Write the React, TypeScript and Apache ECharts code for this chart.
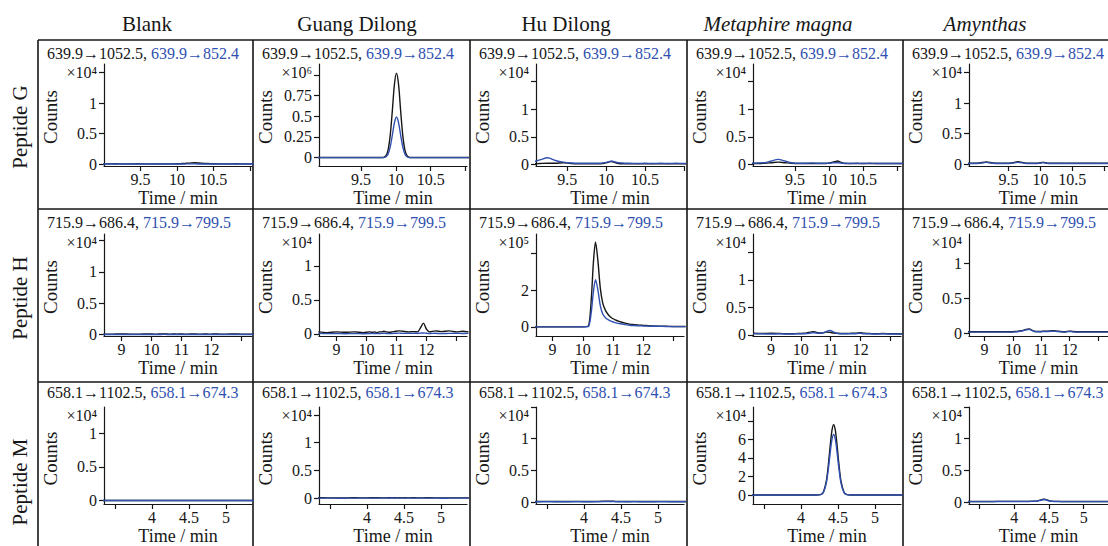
import React, { useEffect, useRef } from 'react';
import * as echarts from 'echarts';

// ---------- categories / texts ----------
const columnNames = ['Blank', 'Guang Dilong', 'Hu Dilong', 'Metaphire magna', 'Amynthas'];
const columnItalic = [false, false, false, true, true];
const peptideNames = ['Peptide G', 'Peptide H', 'Peptide M'];
const transitionsBlack = ['639.9→1052.5', '715.9→686.4', '658.1→1102.5'];
const transitionsBlue = ['639.9→852.4', '715.9→799.5', '658.1→674.3'];

// ---------- time axes (min) ----------
const timeG = [8.85, 8.95, 9.05, 9.15, 9.25, 9.35, 9.45, 9.55, 9.65, 9.75, 9.82, 9.86, 9.89, 9.92, 9.95, 9.98, 10.01, 10.04, 10.07, 10.1, 10.13, 10.16, 10.2, 10.25, 10.3, 10.4, 10.5, 10.6, 10.7, 10.8, 10.9, 11.0, 11.1];
const timeH = [8.4, 8.7, 9.0, 9.3, 9.6, 9.9, 10.1, 10.2, 10.28, 10.35, 10.42, 10.5, 10.58, 10.66, 10.75, 10.85, 10.97, 11.1, 11.2, 11.4, 11.55, 11.7, 11.8, 11.9, 12.0, 12.1, 12.3, 12.5, 12.75, 13.0, 13.2, 13.4];
const timeM = [3.3, 3.4, 3.5, 3.6, 3.7, 3.8, 3.9, 4.0, 4.1, 4.2, 4.26, 4.3, 4.34, 4.37, 4.4, 4.42, 4.44, 4.46, 4.48, 4.51, 4.54, 4.58, 4.62, 4.67, 4.75, 4.85, 4.95, 5.05, 5.15, 5.25, 5.4];

// ---------- Peptide G counts (black = first transition, blue = second) ----------
const gBlankK = [0.005, 0.005, 0.005, 0.006, 0.005, 0.005, 0.006, 0.005, 0.005, 0.005, 0.005, 0.005, 0.005, 0.005, 0.005, 0.006, 0.006, 0.008, 0.01, 0.012, 0.014, 0.016, 0.02, 0.022, 0.018, 0.01, 0.007, 0.005, 0.005, 0.006, 0.005, 0.005, 0.005];
const gBlankB = [0.002, 0.002, 0.002, 0.002, 0.002, 0.002, 0.002, 0.002, 0.002, 0.002, 0.002, 0.002, 0.002, 0.002, 0.002, 0.002, 0.002, 0.003, 0.003, 0.003, 0.004, 0.004, 0.004, 0.004, 0.003, 0.003, 0.002, 0.002, 0.002, 0.002, 0.002, 0.002, 0.002];
const gGuangK = [0.002, 0.002, 0.002, 0.002, 0.002, 0.002, 0.002, 0.002, 0.002, 0.002, 0.003, 0.025, 0.095, 0.27, 0.56, 0.88, 1.02, 0.88, 0.56, 0.27, 0.095, 0.025, 0.003, 0.002, 0.002, 0.002, 0.002, 0.002, 0.002, 0.002, 0.002, 0.002, 0.002];
const gGuangB = [0.001, 0.001, 0.001, 0.001, 0.001, 0.001, 0.001, 0.001, 0.001, 0.001, 0.0015, 0.012, 0.046, 0.13, 0.27, 0.42, 0.49, 0.42, 0.27, 0.13, 0.046, 0.012, 0.0015, 0.001, 0.001, 0.001, 0.001, 0.001, 0.001, 0.001, 0.001, 0.001, 0.001];
const gHuK = [0.01, 0.01, 0.01, 0.015, 0.02, 0.02, 0.03, 0.015, 0.01, 0.01, 0.01, 0.01, 0.01, 0.01, 0.015, 0.02, 0.03, 0.045, 0.05, 0.04, 0.025, 0.015, 0.01, 0.01, 0.01, 0.01, 0.01, 0.01, 0.01, 0.01, 0.01, 0.01, 0.01];
const gHuB = [0.03, 0.03, 0.04, 0.08, 0.12, 0.07, 0.04, 0.025, 0.02, 0.02, 0.02, 0.02, 0.02, 0.02, 0.025, 0.03, 0.04, 0.05, 0.06, 0.05, 0.04, 0.03, 0.025, 0.02, 0.02, 0.015, 0.02, 0.015, 0.02, 0.015, 0.02, 0.015, 0.015];
const gMetaK = [0.015, 0.015, 0.02, 0.03, 0.04, 0.03, 0.02, 0.015, 0.015, 0.015, 0.015, 0.015, 0.015, 0.015, 0.015, 0.02, 0.025, 0.035, 0.045, 0.055, 0.06, 0.045, 0.025, 0.015, 0.015, 0.015, 0.015, 0.015, 0.015, 0.015, 0.015, 0.015, 0.015];
const gMetaB = [0.02, 0.025, 0.03, 0.06, 0.09, 0.06, 0.03, 0.02, 0.02, 0.025, 0.02, 0.02, 0.02, 0.02, 0.02, 0.02, 0.02, 0.025, 0.03, 0.03, 0.03, 0.025, 0.02, 0.02, 0.015, 0.02, 0.015, 0.02, 0.015, 0.015, 0.015, 0.015, 0.015];
const gAmyK = [0.015, 0.015, 0.02, 0.035, 0.02, 0.015, 0.015, 0.02, 0.04, 0.02, 0.015, 0.015, 0.015, 0.015, 0.015, 0.02, 0.025, 0.03, 0.025, 0.02, 0.015, 0.015, 0.015, 0.015, 0.015, 0.015, 0.015, 0.015, 0.015, 0.015, 0.015, 0.015, 0.015];
const gAmyB = [0.01, 0.01, 0.015, 0.03, 0.015, 0.01, 0.01, 0.015, 0.03, 0.015, 0.01, 0.01, 0.01, 0.01, 0.01, 0.015, 0.02, 0.025, 0.02, 0.015, 0.01, 0.01, 0.01, 0.01, 0.01, 0.01, 0.01, 0.01, 0.01, 0.01, 0.01, 0.01, 0.01];

// ---------- Peptide H counts ----------
const hBlankK = [0.01, 0.01, 0.012, 0.01, 0.01, 0.012, 0.01, 0.01, 0.012, 0.012, 0.014, 0.012, 0.01, 0.01, 0.012, 0.01, 0.012, 0.01, 0.01, 0.012, 0.01, 0.01, 0.012, 0.01, 0.01, 0.012, 0.01, 0.01, 0.012, 0.01, 0.01, 0.01];
const hBlankB = [0.005, 0.005, 0.005, 0.005, 0.005, 0.005, 0.005, 0.005, 0.005, 0.005, 0.006, 0.005, 0.005, 0.005, 0.005, 0.005, 0.005, 0.005, 0.005, 0.005, 0.005, 0.005, 0.005, 0.005, 0.005, 0.005, 0.005, 0.005, 0.005, 0.005, 0.005, 0.005];
const hGuangK = [0.03, 0.02, 0.03, 0.025, 0.03, 0.02, 0.03, 0.025, 0.03, 0.02, 0.03, 0.03, 0.04, 0.03, 0.025, 0.03, 0.04, 0.045, 0.04, 0.03, 0.035, 0.03, 0.09, 0.16, 0.07, 0.03, 0.045, 0.035, 0.045, 0.03, 0.04, 0.03];
const hGuangB = [0.008, 0.005, 0.006, 0.004, 0.005, 0.004, 0.006, 0.008, 0.005, 0.006, 0.005, 0.008, 0.01, 0.006, 0.005, 0.006, 0.01, 0.012, 0.008, 0.01, 0.008, 0.01, 0.012, 0.015, 0.01, 0.006, 0.01, 0.005, 0.008, 0.01, 0.006, 0.008];
const hHuK = [0, 0, 0, 0, 0, 0, 0.01, 0.1, 1.5, 3.5, 4.64, 3.6, 2.1, 1.3, 0.9, 0.65, 0.47, 0.36, 0.3, 0.2, 0.15, 0.12, 0.1, 0.09, 0.08, 0.07, 0.05, 0.04, 0.03, 0.02, 0.02, 0.02];
const hHuB = [0, 0, 0, 0, 0, 0, 0.005, 0.05, 0.8, 1.9, 2.58, 2.0, 1.15, 0.7, 0.5, 0.38, 0.28, 0.22, 0.18, 0.12, 0.09, 0.07, 0.06, 0.055, 0.05, 0.045, 0.035, 0.03, 0.02, 0.01, 0.01, 0.01];
const hMetaK = [0.03, 0.025, 0.03, 0.025, 0.02, 0.025, 0.03, 0.035, 0.045, 0.055, 0.06, 0.05, 0.04, 0.035, 0.04, 0.05, 0.045, 0.035, 0.03, 0.025, 0.025, 0.03, 0.03, 0.035, 0.04, 0.03, 0.025, 0.02, 0.025, 0.02, 0.02, 0.02];
const hMetaB = [0.02, 0.02, 0.015, 0.02, 0.015, 0.02, 0.02, 0.025, 0.03, 0.035, 0.04, 0.035, 0.03, 0.03, 0.04, 0.06, 0.08, 0.05, 0.03, 0.02, 0.02, 0.02, 0.02, 0.025, 0.03, 0.02, 0.02, 0.015, 0.02, 0.015, 0.015, 0.015];
const hAmyK = [0.02, 0.02, 0.02, 0.02, 0.02, 0.02, 0.025, 0.03, 0.035, 0.04, 0.05, 0.058, 0.06, 0.045, 0.03, 0.025, 0.025, 0.03, 0.03, 0.035, 0.03, 0.025, 0.02, 0.025, 0.03, 0.025, 0.02, 0.02, 0.02, 0.02, 0.02, 0.02];
const hAmyB = [0.015, 0.015, 0.015, 0.015, 0.015, 0.015, 0.02, 0.025, 0.03, 0.035, 0.045, 0.05, 0.055, 0.04, 0.025, 0.02, 0.02, 0.025, 0.025, 0.03, 0.025, 0.02, 0.015, 0.02, 0.025, 0.02, 0.015, 0.015, 0.015, 0.015, 0.015, 0.015];

// ---------- Peptide M counts ----------
const mBlankK = [0.003, 0.003, 0.003, 0.003, 0.003, 0.003, 0.003, 0.003, 0.003, 0.003, 0.003, 0.003, 0.003, 0.003, 0.003, 0.003, 0.003, 0.003, 0.003, 0.003, 0.003, 0.003, 0.003, 0.003, 0.003, 0.003, 0.003, 0.003, 0.003, 0.003, 0.003];
const mBlankB = [0.003, 0.003, 0.003, 0.003, 0.003, 0.003, 0.003, 0.003, 0.003, 0.003, 0.003, 0.003, 0.003, 0.003, 0.003, 0.003, 0.003, 0.003, 0.003, 0.003, 0.003, 0.003, 0.003, 0.003, 0.003, 0.003, 0.003, 0.003, 0.003, 0.003, 0.003];
const mGuangK = [0.01, 0.012, 0.01, 0.008, 0.01, 0.012, 0.01, 0.01, 0.012, 0.01, 0.01, 0.012, 0.014, 0.012, 0.01, 0.01, 0.012, 0.01, 0.01, 0.012, 0.01, 0.01, 0.012, 0.01, 0.01, 0.012, 0.01, 0.008, 0.01, 0.01, 0.01];
const mGuangB = [0.005, 0.005, 0.006, 0.005, 0.004, 0.005, 0.005, 0.006, 0.005, 0.005, 0.005, 0.006, 0.007, 0.006, 0.005, 0.005, 0.006, 0.005, 0.005, 0.006, 0.005, 0.005, 0.005, 0.005, 0.005, 0.006, 0.005, 0.004, 0.005, 0.005, 0.005];
const mHuK = [0.01, 0.01, 0.012, 0.01, 0.01, 0.01, 0.012, 0.01, 0.01, 0.012, 0.014, 0.015, 0.016, 0.015, 0.014, 0.012, 0.012, 0.01, 0.01, 0.012, 0.01, 0.01, 0.01, 0.012, 0.01, 0.01, 0.01, 0.012, 0.01, 0.01, 0.01];
const mHuB = [0.005, 0.005, 0.006, 0.005, 0.005, 0.005, 0.006, 0.005, 0.005, 0.006, 0.008, 0.01, 0.01, 0.009, 0.008, 0.006, 0.006, 0.005, 0.005, 0.006, 0.005, 0.005, 0.005, 0.006, 0.005, 0.005, 0.005, 0.006, 0.005, 0.005, 0.005];
const mMetaK = [0, 0, 0, 0, 0, 0, 0, 0, 0, 0.002, 0.04, 0.3, 1.46, 3.4, 5.85, 7.1, 7.6, 7.1, 5.85, 3.4, 1.46, 0.3, 0.04, 0.003, 0, 0, 0, 0, 0, 0, 0];
const mMetaB = [0, 0, 0, 0, 0, 0, 0, 0, 0, 0.002, 0.035, 0.26, 1.26, 2.93, 5.04, 6.12, 6.55, 6.12, 5.04, 2.93, 1.26, 0.26, 0.035, 0.002, 0, 0, 0, 0, 0, 0, 0];
const mAmyK = [0.01, 0.01, 0.01, 0.01, 0.01, 0.012, 0.012, 0.012, 0.012, 0.012, 0.013, 0.015, 0.02, 0.03, 0.04, 0.045, 0.045, 0.04, 0.03, 0.02, 0.015, 0.012, 0.012, 0.01, 0.01, 0.01, 0.01, 0.01, 0.01, 0.01, 0.01];
const mAmyB = [0.008, 0.008, 0.008, 0.008, 0.008, 0.01, 0.01, 0.01, 0.01, 0.01, 0.011, 0.013, 0.017, 0.025, 0.033, 0.038, 0.038, 0.033, 0.025, 0.017, 0.013, 0.01, 0.01, 0.008, 0.008, 0.008, 0.008, 0.008, 0.008, 0.008, 0.008];

// ---------- axis ranges and ticks ----------
const xRangeG = [[9.0, 11.03], [8.9, 11.02], [9.1, 11.0], [8.88, 11.06], [8.88, 11.06]];
const xRangeH = [[8.42, 13.35], [8.42, 13.35], [8.45, 13.35], [8.4, 13.35], [8.45, 13.35]];
const xRangeM = [[3.35, 5.35], [3.35, 5.35], [3.35, 5.35], [3.35, 5.35], [3.35, 5.35]];
const xTicksG = [9.5, 10, 10.5, 11];
const xLabelsG = [9.5, 10, 10.5];
const xTicksH = [9, 10, 11, 12, 13];
const xLabelsH = [9, 10, 11, 12];
const xTicksM = [3.5, 4, 4.5, 5];
const xLabelsM = [4, 4.5, 5];

const yRangeG = [[-0.03, 1.64], [-0.1, 1.13], [-0.03, 1.82], [-0.03, 1.82], [-0.03, 1.64]];
const yRangeH = [[-0.02, 1.6], [-0.03, 1.47], [-0.5, 5.07], [-0.02, 1.83], [-0.04, 1.42]];
const yRangeM = [[-0.05, 1.39], [-0.1, 1.64], [-0.03, 1.5], [-0.97, 9.5], [-0.03, 1.5]];
const yTicksSmall = [0, 0.5, 1, 1.5];
const yLabelsSmall = [0, 0.5, 1];
const yTicksGuangG = [0, 0.25, 0.5, 0.75, 1];
const yLabelsGuangG = [0, 0.25, 0.5, 0.75];
const yTicksHuH = [0, 2, 4];
const yLabelsHuH = [0, 2];
const yTicksMetaM = [0, 2, 4, 6, 8];
const yLabelsMetaM = [0, 2, 4, 6];
const exponentG = ['×10⁴', '×10⁶', '×10⁴', '×10⁴', '×10⁴'];
const exponentH = ['×10⁴', '×10⁴', '×10⁵', '×10⁴', '×10⁴'];
const exponentM = ['×10⁴', '×10⁴', '×10⁴', '×10⁴', '×10⁴'];

// ---------- styling / layout ----------
const FONT = "'Liberation Serif','Times New Roman',Times,serif";
const INK = '#161616';
const BLUE = '#2f50b0';
const colX = [38, 253, 470, 687, 903];
const rowY = [40, 209, 382];
const gridTop = [64, 234, 407];
const gridH = [102, 102, 99];
const PLOT_LEFT = 66;
const PLOT_W = 148;
const headerX = [147, 357, 566, 778, 985];
const peptideY = [127, 298, 482];
const titleY = [53, 222, 392];

export default function App() {
  const ref = useRef<HTMLDivElement>(null);

  useEffect(() => {
    const chart = echarts.init(ref.current as HTMLDivElement, null, { renderer: 'svg' });

    const rowsData = [
      { t: timeG, xr: xRangeG, xt: xTicksG, xl: xLabelsG, yr: yRangeG, exp: exponentG,
        k: [gBlankK, gGuangK, gHuK, gMetaK, gAmyK], b: [gBlankB, gGuangB, gHuB, gMetaB, gAmyB],
        yt: [yTicksSmall, yTicksGuangG, yTicksSmall, yTicksSmall, yTicksSmall],
        yl: [yLabelsSmall, yLabelsGuangG, yLabelsSmall, yLabelsSmall, yLabelsSmall] },
      { t: timeH, xr: xRangeH, xt: xTicksH, xl: xLabelsH, yr: yRangeH, exp: exponentH,
        k: [hBlankK, hGuangK, hHuK, hMetaK, hAmyK], b: [hBlankB, hGuangB, hHuB, hMetaB, hAmyB],
        yt: [yTicksSmall, yTicksSmall, yTicksHuH, yTicksSmall, yTicksSmall],
        yl: [yLabelsSmall, yLabelsSmall, yLabelsHuH, yLabelsSmall, yLabelsSmall] },
      { t: timeM, xr: xRangeM, xt: xTicksM, xl: xLabelsM, yr: yRangeM, exp: exponentM,
        k: [mBlankK, mGuangK, mHuK, mMetaK, mAmyK], b: [mBlankB, mGuangB, mHuB, mMetaB, mAmyB],
        yt: [yTicksSmall, yTicksSmall, yTicksSmall, yTicksMetaM, yTicksSmall],
        yl: [yLabelsSmall, yLabelsSmall, yLabelsSmall, yLabelsMetaM, yLabelsSmall] },
    ];

    const grid: any[] = [];
    const xAxis: any[] = [];
    const yAxis: any[] = [];
    const series: any[] = [];
    const graphic: any[] = [];

    rowsData.forEach((row, r) => {
      for (let c = 0; c < 5; c++) {
        const i = grid.length;
        grid.push({ left: colX[c] + PLOT_LEFT, top: gridTop[r], width: PLOT_W, height: gridH[r] });
        const yt = row.yt[c];
        const yr = row.yr[c];
        xAxis.push({
          type: 'value', gridIndex: i, min: row.xr[c][0], max: row.xr[c][1],
          name: 'Time / min', nameLocation: 'middle', nameGap: 23,
          nameTextStyle: { fontFamily: FONT, fontSize: 18, color: INK },
          axisLine: { show: true, onZero: false, lineStyle: { color: INK, width: 1.2 } },
          axisTick: { show: true, length: 5, customValues: row.xt, lineStyle: { color: INK, width: 1.2 } },
          axisLabel: { show: true, customValues: row.xl, fontFamily: FONT, fontSize: 16, color: INK, margin: 5 },
          splitLine: { show: false },
        });
        yAxis.push({
          type: 'value', gridIndex: i, min: yr[0], max: yr[1],
          axisLine: { show: true, onZero: false, lineStyle: { color: INK, width: 1.2 } },
          axisTick: { show: true, length: 5, customValues: yt.filter((v) => v <= yr[1]), lineStyle: { color: INK, width: 1.2 } },
          axisLabel: { show: true, customValues: row.yl[c], fontFamily: FONT, fontSize: 16, color: INK, margin: 7 },
          splitLine: { show: false },
        });
        series.push({
          type: 'line', xAxisIndex: i, yAxisIndex: i, showSymbol: false, symbol: 'none', smooth: 0.3,
          clip: true, silent: true, lineStyle: { color: INK, width: 1.4 },
          data: row.t.map((x, j) => [x, row.k[c][j]]),
        });
        series.push({
          type: 'line', xAxisIndex: i, yAxisIndex: i, showSymbol: false, symbol: 'none', smooth: 0.3,
          clip: true, silent: true, lineStyle: { color: BLUE, width: 1.4 },
          data: row.t.map((x, j) => [x, row.b[c][j]]),
        });
        // panel title
        graphic.push({
          type: 'text', x: colX[c] + 9, y: titleY[r], silent: true,
          style: {
            text: `{k|${transitionsBlack[r]}, }{b|${transitionsBlue[r]}}`,
            verticalAlign: 'middle',
            rich: {
              k: { fill: INK, fontSize: 16, fontFamily: FONT },
              b: { fill: BLUE, fontSize: 16, fontFamily: FONT },
            },
          },
        });
        // Counts label
        graphic.push({
          type: 'text', x: colX[c] + 12, y: gridTop[r] + gridH[r] / 2 + 2, rotation: Math.PI / 2, silent: true,
          style: { text: 'Counts', fontSize: 19, fontFamily: FONT, fill: INK, align: 'center', verticalAlign: 'middle' },
        });
        // exponent label
        graphic.push({
          type: 'text', x: colX[c] + PLOT_LEFT - 7, y: gridTop[r] + 8, silent: true,
          style: { text: row.exp[c], fontSize: 16, fontFamily: FONT, fill: INK, align: 'right', verticalAlign: 'middle' },
        });
      }
    });

    // column headers
    columnNames.forEach((name, c) => {
      graphic.push({
        type: 'text', x: headerX[c], y: 24, silent: true,
        style: { text: name, fontSize: 21, fontFamily: FONT, fontStyle: columnItalic[c] ? 'italic' : 'normal', fill: INK, align: 'center', verticalAlign: 'middle' },
      });
    });
    // row labels
    peptideNames.forEach((name, r) => {
      graphic.push({
        type: 'text', x: 20, y: peptideY[r], rotation: Math.PI / 2, silent: true,
        style: { text: name, fontSize: 21, fontFamily: FONT, fill: INK, align: 'center', verticalAlign: 'middle' },
      });
    });
    // table borders
    rowY.forEach((y) => {
      graphic.push({ type: 'line', silent: true, shape: { x1: 38, y1: y, x2: 1108, y2: y }, style: { stroke: INK, lineWidth: 1.6 } });
    });
    colX.forEach((x) => {
      graphic.push({ type: 'line', silent: true, shape: { x1: x, y1: 40, x2: x, y2: 546 }, style: { stroke: INK, lineWidth: 1.6 } });
    });

    chart.setOption({
      animation: false,
      backgroundColor: '#ffffff',
      grid, xAxis, yAxis, series, graphic,
    });

    return () => chart.dispose();
  }, []);

  return (
    <div
      ref={ref}
      style={{ position: 'absolute', left: 0, top: 0, width: 1108, height: 546, background: '#fff' }}
    />
  );
}
